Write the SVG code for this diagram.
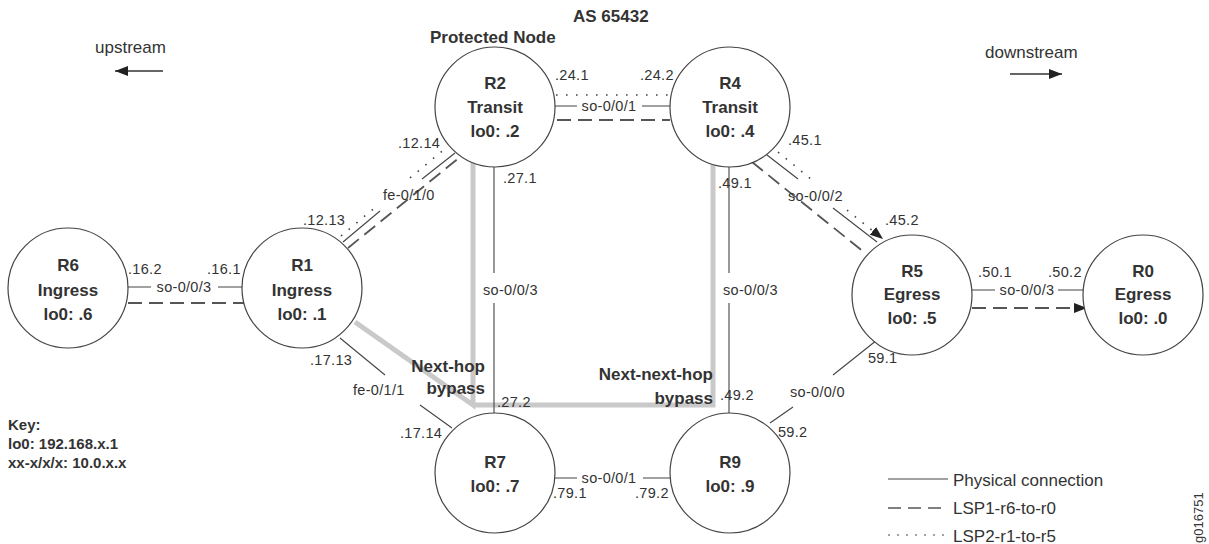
<svg xmlns="http://www.w3.org/2000/svg" width="1209" height="544" viewBox="0 0 1209 544">
<style>
text{font-family:"Liberation Sans",Arial,sans-serif;fill:#333}
.node circle{fill:#fff;stroke:#444;stroke-width:1.2}
.nl{font-size:17px;font-weight:bold;text-anchor:middle}
.lbl{font-size:14.5px;letter-spacing:0.3px}
.mid{text-anchor:middle}
.bold{font-size:17px;font-weight:bold}
.end{text-anchor:end}
.phys{stroke:#444;stroke-width:1.1;fill:none}
.lsp1{stroke:#555;stroke-width:1.8;stroke-dasharray:14 7;fill:none}
.lsp2{stroke:#444;stroke-width:1.6;stroke-dasharray:1.6 8.4;fill:none}
.bypass{stroke:#c9c9c9;stroke-width:5;fill:none}
.key{font-size:15px;font-weight:bold}
.leg{font-size:17px}
</style>
<defs>
<marker id="ah" markerUnits="userSpaceOnUse" markerWidth="14" markerHeight="12" refX="13" refY="5" orient="auto">
<path d="M0,0 L13,5 L0,10 Z" style="fill:#222;stroke:none"/>
</marker>
</defs>

<g id="connectors">
<path class="bypass" d="M355,322 L473,405 L473,150"/>
<path class="bypass" d="M473,405 L713,405 L713,150"/>

<!-- R6-R1 -->
<path class="phys" d="M120,287 L151,287 M218,287 L250,287"/>
<path class="lsp1" d="M128,303 L245,303"/>
<!-- R1-R2 -->
<path class="phys" d="M343,242 L380,211 M422,179 L455,153"/>
<path class="lsp2" d="M341,236 L378,205 M410,178 L447,147"/>
<path class="lsp1" d="M348,248 L460,157"/>
<!-- R2-R4 -->
<path class="lsp2" d="M556,95 L670,95"/>
<path class="phys" d="M550,106 L577,106 M642,106 L675,106"/>
<path class="lsp1" d="M557,120 L670,120"/>
<!-- R2-R7 -->
<path class="phys" d="M494,160 L494,273 M494,303 L494,420"/>
<!-- R4-R9 -->
<path class="phys" d="M729,160 L729,273 M729,303 L729,420"/>
<!-- R4-R5 -->
<path class="phys" d="M767,155 L798,179 M833,208 L877,242"/>
<path class="lsp2" d="M778,152 L812,180"/>
<path class="lsp2" d="M847,210 L883,239" marker-end="url(#ah)"/>
<path class="lsp1" d="M752,162 L865,253"/>
<!-- R5-R0 -->
<path class="phys" d="M965,290 L995,290 M1058,290 L1090,290"/>
<path class="lsp1" d="M972,308 L1087,308" marker-end="url(#ah)"/>
<!-- R1-R7 -->
<path class="phys" d="M340,338 L385,375 M420,405 L452,428"/>
<!-- R7-R9 -->
<path class="phys" d="M550,478 L577,478 M643,478 L675,478"/>
<!-- R9-R5 -->
<path class="phys" d="M770,423 L793,407 M833,375 L877,340"/>

<!-- upstream/downstream arrows -->
<path d="M163,71 L115,71" stroke="#333" stroke-width="1.5" marker-end="url(#ah)"/>
<path d="M1010,74 L1062,74" stroke="#333" stroke-width="1.5" marker-end="url(#ah)"/>

<!-- legend lines -->
<path class="phys" d="M888,479 L948,479"/>
<path class="lsp1" d="M888,508 L948,508" style="stroke-dasharray:13 7;stroke-width:1.4"/>
<path class="lsp2" d="M888,535 L948,535" style="stroke-dasharray:2 7;stroke-width:1.2"/>
</g>

<g id="R6" class="node"><circle cx="68" cy="288" r="60"/>
<text class="nl" x="68" y="271">R6</text><text class="nl" x="68" y="296">Ingress</text><text class="nl" x="68" y="320">lo0: .6</text></g>
<g id="R1" class="node"><circle cx="302" cy="288" r="60"/>
<text class="nl" x="302" y="271">R1</text><text class="nl" x="302" y="296">Ingress</text><text class="nl" x="302" y="320">lo0: .1</text></g>
<g id="R2" class="node"><circle cx="495" cy="107" r="60"/>
<text class="nl" x="495" y="89">R2</text><text class="nl" x="495" y="113">Transit</text><text class="nl" x="495" y="137">lo0: .2</text></g>
<g id="R4" class="node"><circle cx="730" cy="107" r="60"/>
<text class="nl" x="730" y="89">R4</text><text class="nl" x="730" y="113">Transit</text><text class="nl" x="730" y="137">lo0: .4</text></g>
<g id="R5" class="node"><circle cx="912" cy="295" r="60"/>
<text class="nl" x="912" y="277">R5</text><text class="nl" x="912" y="300">Egress</text><text class="nl" x="912" y="324">lo0: .5</text></g>
<g id="R0" class="node"><circle cx="1143" cy="295" r="60"/>
<text class="nl" x="1143" y="277">R0</text><text class="nl" x="1143" y="300">Egress</text><text class="nl" x="1143" y="324">lo0: .0</text></g>
<g id="R7" class="node"><circle cx="495" cy="473" r="60"/>
<text class="nl" x="495" y="468">R7</text><text class="nl" x="495" y="492">lo0: .7</text></g>
<g id="R9" class="node"><circle cx="730" cy="473" r="60"/>
<text class="nl" x="730" y="468">R9</text><text class="nl" x="730" y="492">lo0: .9</text></g>

<g id="labels">
<text class="lbl" x="128" y="274">.16.2</text>
<text class="lbl" x="207" y="274">.16.1</text>
<text class="lbl mid" x="184" y="292">so-0/0/3</text>
<text class="lbl" x="303" y="225">.12.13</text>
<text class="lbl" x="398" y="148">.12.14</text>
<text class="lbl" x="383" y="200">fe-0/1/0</text>
<text class="lbl" x="555" y="80">.24.1</text>
<text class="lbl" x="640" y="80">.24.2</text>
<text class="lbl mid" x="609" y="111">so-0/0/1</text>
<text class="lbl" x="503" y="183">.27.1</text>
<text class="lbl" x="718" y="188">.49.1</text>
<text class="lbl" x="483" y="295">so-0/0/3</text>
<text class="lbl" x="723" y="295">so-0/0/3</text>
<text class="lbl" x="788" y="145">.45.1</text>
<text class="lbl" x="788" y="201">so-0/0/2</text>
<text class="lbl" x="885" y="225">.45.2</text>
<text class="lbl" x="978" y="277">.50.1</text>
<text class="lbl" x="1048" y="277">.50.2</text>
<text class="lbl mid" x="1027" y="295">so-0/0/3</text>
<text class="lbl" x="868" y="363">59.1</text>
<text class="lbl" x="790" y="397">so-0/0/0</text>
<text class="lbl" x="778" y="437">59.2</text>
<text class="lbl" x="310" y="365">.17.13</text>
<text class="lbl" x="353" y="395">fe-0/1/1</text>
<text class="lbl" x="400" y="438">.17.14</text>
<text class="lbl" x="497" y="407">.27.2</text>
<text class="lbl" x="720" y="400">.49.2</text>
<text class="lbl" x="553" y="498">.79.1</text>
<text class="lbl" x="635" y="498">.79.2</text>
<text class="lbl mid" x="609" y="483">so-0/0/1</text>

<text class="bold" x="573" y="22">AS 65432</text>
<text class="bold" x="430" y="43">Protected Node</text>
<text class="bold end" x="485" y="372">Next-hop</text>
<text class="bold end" x="485" y="394">bypass</text>
<text class="bold end" x="713" y="380">Next-next-hop</text>
<text class="bold end" x="713" y="404">bypass</text>

<text x="95" y="53" style="font-size:17px">upstream</text>
<text x="985" y="58" style="font-size:17px">downstream</text>

<text class="key" x="8" y="430">Key:</text>
<text class="key" x="8" y="449">lo0: 192.168.x.1</text>
<text class="key" x="8" y="468">xx-x/x/x: 10.0.x.x</text>

<text class="leg" x="953" y="486">Physical connection</text>
<text class="leg" x="953" y="514">LSP1-r6-to-r0</text>
<text class="leg" x="953" y="542">LSP2-r1-to-r5</text>

<text transform="translate(1203,543) rotate(-90)" style="font-size:13px">g016751</text>
</g>
</svg>
